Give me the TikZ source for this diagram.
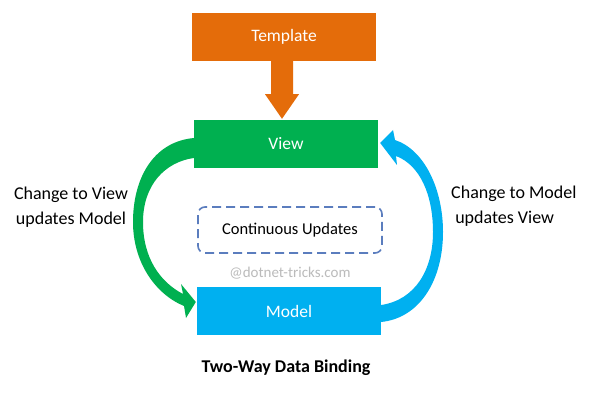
\documentclass[tikz,border=0pt]{standalone}
\usepackage{fontspec}
\setmainfont{Carlito}
\usetikzlibrary{calc}
\definecolor{orng}{HTML}{E46C0A}
\definecolor{grn}{HTML}{00B050}
\definecolor{blu}{HTML}{00B0F0}
\definecolor{dsh}{HTML}{5B7DBE}
\definecolor{wmgray}{HTML}{BBBBBB}
\begin{document}
\begin{tikzpicture}[x=1pt,y=-1pt,
  box/.style={minimum width=184pt,minimum height=48pt,inner sep=0pt,text=white,font=\fontsize{17.5}{20}\selectfont},
  lbl/.style={font=\fontsize{18}{25}\selectfont,inner sep=0pt},
  contbox/.style={draw=dsh,dash pattern=on 9pt off 5pt,line width=1.6pt,rounded corners=7pt,minimum width=184pt,minimum height=46pt,inner sep=0pt,font=\fontsize{16.5}{20}\selectfont}]
\useasboundingbox[fill=white] (0,0) rectangle (591,403);
\node[box,fill=orng] (template) at (284,37) {Template};
\node[box,fill=grn] (view) at (286,144) {View};
\node[box,fill=blu] (model) at (289,311) {Model};
\node[contbox] (cont) at (290,230) {Continuous Updates};
\node[text=wmgray,font=\fontsize{15}{18}\selectfont] (wm) at (290,273) {@dotnet-tricks.com};
\node[lbl,align=center] (left) at (71,207) {Change to View\\updates Model};
\node[lbl,align=left,anchor=west] (right) at (451,206) {Change to Model\\\ updates View};
\node[font=\fontsize{18}{20}\selectfont\bfseries] (title) at (286,368) {Two-Way Data Binding};
% template -> view
\fill[orng] ($(template.south)+(-13,0)$) -- ++(0,33) -- ++(-6,0) -- ($(view.north)+(-4,-1)$)
  -- ($(template.south)+(15,33)$) -- ++(-6,0) -- ($(template.south)+(9,0)$) -- cycle;
% view -> model (green)
\coordinate (g1) at ($(view.west)+(0,-6)$);
\coordinate (g2) at ($(view.west)+(0,14)$);
\coordinate (gtip) at ($(model.west)+(-1,-9)$);
\fill[grn] (g1) .. controls (152,142) and (133,180) .. (133,222)
  .. controls (133,262) and (155,294) .. (184,306) -- (186,318) -- (gtip) -- (181,284) -- (183,294)
  .. controls (160,282) and (143,258) .. (143,222)
  .. controls (143,185) and (165,162) .. (g2) -- cycle;
% view -> model (blue)
\coordinate (b1) at ($(model.east)+(0,-6)$);
\coordinate (b2) at ($(model.east)+(0,11)$);
\coordinate (btip) at ($(view.east)+(2,-1)$);
\fill[blu] (b1) .. controls (415,300) and (433,270) .. (433,232)
  .. controls (433,195) and (420,165) .. (396,156) -- (397,165) -- (btip) -- (393,130) -- (395,140)
  .. controls (425,150) and (443,190) .. (443,232)
  .. controls (443,280) and (420,318) .. (b2) -- cycle;
\end{tikzpicture}
\end{document}
